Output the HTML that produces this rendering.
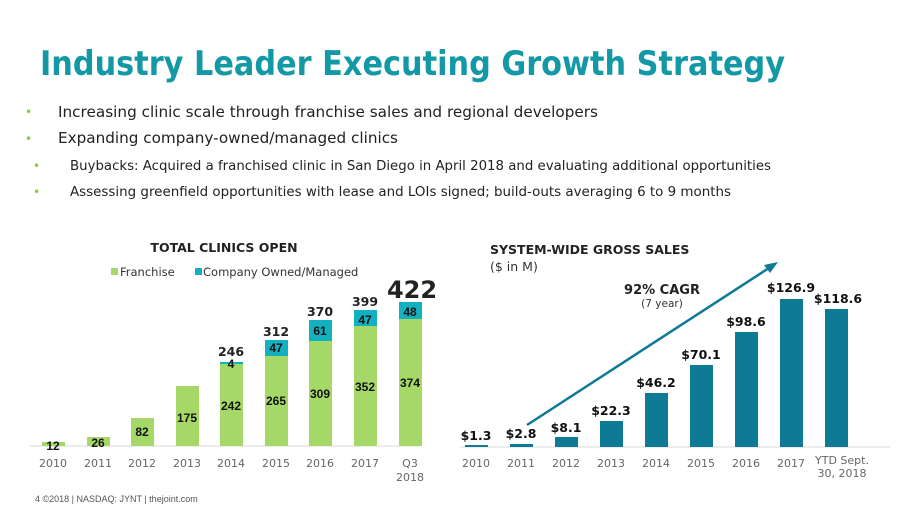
<!DOCTYPE html>
<html><head><meta charset="utf-8"><style>
html,body{margin:0;padding:0;background:#fff;}
svg{display:block;font-family:"DejaVu Sans","Liberation Sans",sans-serif;}
</style></head><body>
<svg width="911" height="512" viewBox="0 0 911 512" xmlns="http://www.w3.org/2000/svg">
<rect width="911" height="512" fill="#fff"/>
<text x="40" y="75" font-size="34" font-weight="bold" fill="#1399a6" textLength="745" lengthAdjust="spacingAndGlyphs">Industry Leader Executing Growth Strategy</text>
<g fill="#8dc63f" font-size="12"><text x="25" y="116">•</text><text x="25" y="143">•</text><text x="33" y="170">•</text><text x="33" y="196">•</text></g>
<g fill="#222">
<text x="58" y="117" font-size="15" textLength="540" lengthAdjust="spacingAndGlyphs">Increasing clinic scale through franchise sales and regional developers</text>
<text x="58" y="143" font-size="15" textLength="340" lengthAdjust="spacingAndGlyphs">Expanding company-owned/managed clinics</text>
<text x="70" y="170" font-size="13" textLength="701" lengthAdjust="spacingAndGlyphs">Buybacks: Acquired a franchised clinic in San Diego in April 2018 and evaluating additional opportunities</text>
<text x="70" y="196" font-size="13" textLength="661" lengthAdjust="spacingAndGlyphs">Assessing greenfield opportunities with lease and LOIs signed; build-outs averaging 6 to 9 months</text>
</g>
<!-- Left chart -->
<text x="224" y="252" font-size="12.5" font-weight="bold" fill="#222" text-anchor="middle">TOTAL CLINICS OPEN</text>
<rect x="111" y="268" width="7" height="7" fill="#a5d867"/>
<text x="120" y="276" font-size="11.5" fill="#333">Franchise</text>
<rect x="195" y="268" width="7" height="7" fill="#13b0c0"/>
<text x="203" y="276" font-size="11.5" fill="#333">Company Owned/Managed</text>
<line x1="30" y1="446" x2="420" y2="446" stroke="#d8d8d8"/>
<g fill="#a5d867">
<rect x="42" y="442" width="23" height="4"/>
<rect x="87" y="437" width="23" height="9"/>
<rect x="131" y="418" width="23" height="28"/>
<rect x="176" y="386" width="23" height="60"/>
<rect x="220" y="363" width="23" height="83"/>
<rect x="265" y="356" width="23" height="90"/>
<rect x="309" y="341" width="23" height="105"/>
<rect x="354" y="326" width="23" height="120"/>
<rect x="399" y="319" width="23" height="127"/>
</g>
<g fill="#13b0c0">
<rect x="220" y="362" width="23" height="2"/>
<rect x="265" y="340" width="23" height="16"/>
<rect x="309" y="320" width="23" height="21"/>
<rect x="354" y="310" width="23" height="16"/>
<rect x="399" y="302" width="23" height="17"/>
</g>
<g font-family="Liberation Sans,sans-serif" font-size="12" font-weight="bold" fill="#111" text-anchor="middle">
<text x="53" y="450">12</text><text x="98" y="447">26</text><text x="142" y="436">82</text><text x="187" y="422">175</text>
<text x="231" y="410">242</text><text x="276" y="405">265</text><text x="320" y="398">309</text><text x="365" y="391">352</text><text x="410" y="387">374</text>
<text x="231" y="368">4</text><text x="276" y="352">47</text><text x="320" y="335">61</text><text x="365" y="324">47</text><text x="410" y="316">48</text>
</g>
<g font-size="12.5" font-weight="bold" fill="#222" text-anchor="middle">
<text x="231" y="356">246</text><text x="276" y="336">312</text><text x="320" y="316">370</text><text x="365" y="306">399</text>
</g>
<text x="412" y="298" font-size="24" font-weight="bold" fill="#222" text-anchor="middle">422</text>
<g font-size="11" fill="#666" text-anchor="middle">
<text x="53" y="467">2010</text><text x="98" y="467">2011</text><text x="142" y="467">2012</text><text x="187" y="467">2013</text><text x="231" y="467">2014</text><text x="276" y="467">2015</text><text x="320" y="467">2016</text><text x="365" y="467">2017</text><text x="410" y="467">Q3</text><text x="410" y="481">2018</text>
</g>
<!-- Right chart -->
<text x="490" y="254" font-size="12.5" font-weight="bold" fill="#222">SYSTEM-WIDE GROSS SALES</text>
<text x="490" y="271" font-size="12.5" fill="#333">($ in M)</text>
<line x1="460" y1="447" x2="890" y2="447" stroke="#d8d8d8"/>
<g fill="#0e7a96">
<rect x="465" y="445" width="23" height="2"/>
<rect x="510" y="444" width="23" height="3"/>
<rect x="555" y="437" width="23" height="10"/>
<rect x="600" y="421" width="23" height="26"/>
<rect x="645" y="393" width="23" height="54"/>
<rect x="690" y="365" width="23" height="82"/>
<rect x="735" y="332" width="23" height="115"/>
<rect x="780" y="299" width="23" height="148"/>
<rect x="825" y="309" width="23" height="138"/>
</g>
<line x1="527" y1="425" x2="772" y2="266" stroke="#0e7a96" stroke-width="2.5"/>
<polygon points="778,262 764,265 770,273" fill="#0e7a96"/>
<text x="662" y="294" font-size="13" font-weight="bold" fill="#222" text-anchor="middle">92% CAGR</text>
<text x="662" y="307" font-size="10.5" fill="#333" text-anchor="middle">(7 year)</text>
<g font-size="12.5" font-weight="bold" fill="#111" text-anchor="middle">
<text x="476" y="440">$1.3</text><text x="521" y="438">$2.8</text><text x="566" y="432">$8.1</text><text x="611" y="415">$22.3</text><text x="656" y="387">$46.2</text><text x="701" y="359">$70.1</text><text x="746" y="326">$98.6</text><text x="791" y="292">$126.9</text><text x="838" y="303">$118.6</text>
</g>
<g font-size="11" fill="#666" text-anchor="middle">
<text x="476" y="467">2010</text><text x="521" y="467">2011</text><text x="566" y="467">2012</text><text x="611" y="467">2013</text><text x="656" y="467">2014</text><text x="701" y="467">2015</text><text x="746" y="467">2016</text><text x="791" y="467">2017</text><text x="842" y="464">YTD Sept.</text><text x="842" y="477">30, 2018</text>
</g>
<text x="35" y="502" font-family="Liberation Sans,sans-serif" font-size="9" fill="#555">4  ©2018 | NASDAQ: JYNT   |   thejoint.com</text>
</svg>
</body></html>
